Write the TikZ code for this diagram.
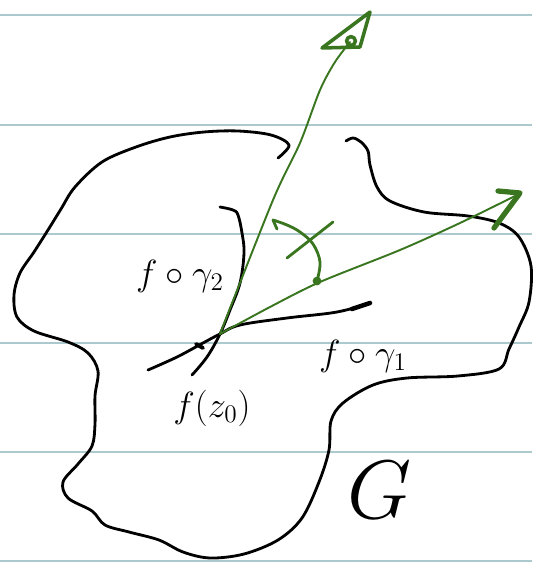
\documentclass[tikz,border=0pt]{standalone}
\usepackage{tikz}
\usetikzlibrary{arrows.meta, positioning, calc}
\usepackage{amsmath}
\definecolor{InkGreen}{RGB}{58,118,32}
\definecolor{RuleBlue}{RGB}{172,202,206}

\begin{document}
\begin{tikzpicture}[
  x=0.02cm, y=-0.02cm,
  rule/.style={RuleBlue, line width=1.6pt},
  ink/.style={black, line width=1.6pt, line cap=round, line join=round},
  vec/.style={InkGreen, line width=1.1pt, line cap=round, line join=round},
  tip/.style={InkGreen, line width=2pt, line cap=round, line join=round},
  lab/.style={font=\huge, inner sep=0pt}
]

% Paper
\fill[white] (0,0) rectangle (532,564);
\useasboundingbox (0,0) rectangle (532,564);

% Ruled lines
\foreach \y in {15,125,234,343,452,561}
  \draw[rule] (0,\y) -- (532,\y);

% Region G (open at the top)
\draw[ink] plot[smooth, tension=0.55] coordinates {
  (278,158) (289,145) (271,135) (238,131) (204,132) (170,137) (136,147)
  (102,162) (75,187) (61,209) (48,230) (34,252) (20,273) (14,295) (17,317)
  (34,331) (68,342) (88,353) (98,371) (95,396) (95,424) (92,446) (78,464)
  (63,482) (68,498) (92,511) (105,525) (129,532) (159,540) (183,552)
  (210,558) (244,554) (278,540) (302,518) (319,482) (329,450) (331,421)
  (343,403) (373,385) (407,378) (458,376) (499,369) (509,349) (519,327)
  (529,302) (531,266) (519,237) (499,223) (468,216) (424,212) (390,201)
  (377,187) (370,165) (368,151) (361,142) (353,138) (346,141)};

% Image curves through f(z0)
\coordinate (fz0) at (220,334);
\draw[ink] plot[smooth, tension=0.6] coordinates {
  (220,207) (233,210) (238,215) (242,233) (244,253) (240,283) (230,310)
  (fz0) (207,357) (192,375)};
\draw[ink] plot[smooth, tension=0.6] coordinates {
  (148,370) (177,357) (203,343) (fz0) (240,325) (287,318) (337,312) (370,303)};
\draw[ink, line width=2.6pt] (352,309) -- (370,303);
\draw[ink, line width=2.2pt] (196,344) -- (203,348);

% Tangent vectors
\draw[vec] plot[smooth, tension=0.5] coordinates {
  (fz0) (273,200) (300,143) (320,90) (335,62) (350,42)};
\draw[tip] (370,12) -- (322,48) -- (360,47) -- cycle;
\draw[tip] (351,41) circle (2.5pt);

\draw[vec] plot[smooth, tension=0.5] coordinates {
  (fz0) (270,307) (320,282) (400,250) (460,223) (517,195)};
\draw[tip, line width=3pt] (498,191) -- (520,193) -- (494,228);

% Angle between the vectors
\coordinate (angA) at (317,281);
\coordinate (angB) at (273,220);
\draw[vec, line width=1.6pt] plot[smooth, tension=0.6] coordinates {
  (angA) (320,262) (313,244) (300,232) (287,225) (angB)};
\draw[vec, line width=1.6pt] (angB) -- (277,229);
\fill[InkGreen] (angA) circle (2.5pt);
\draw[vec, line width=1.6pt] (287,258) -- (333,222);

% Labels
\node[lab] (lab-fg2) at (180,276) {$f\circ\gamma_2$};
\node[lab] (lab-fg1) at (363,356) {$f\circ\gamma_1$};
\node[lab] (lab-fz0) at (212,408) {$f(z_0)$};
\node[lab, font=\Huge, scale=1.9, transform shape] (lab-G) at (380,490) {$G$};

\end{tikzpicture}
\end{document}
